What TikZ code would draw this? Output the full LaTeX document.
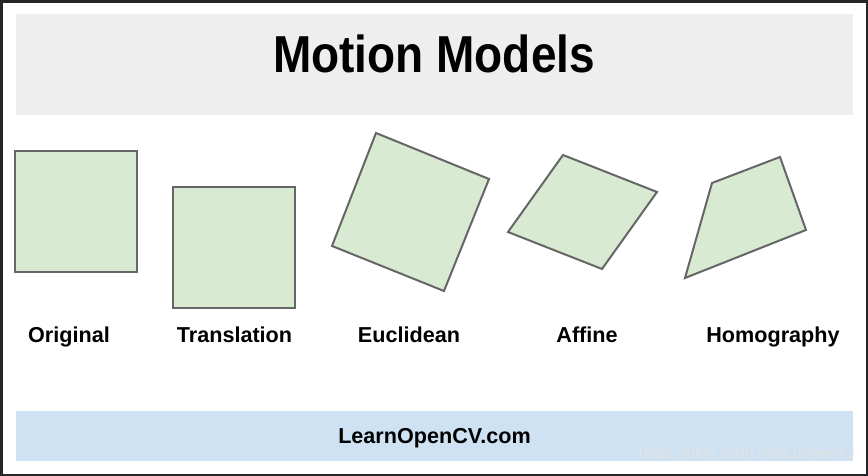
\documentclass[tikz,border=0pt]{standalone}
\usepackage{fontspec}
\setmainfont{Liberation Sans}
\usepackage{xcolor}
\usepackage{tikz}
\usetikzlibrary{positioning}

\definecolor{framegray}{HTML}{262628}
\definecolor{titlegray}{HTML}{EEEEEE}
\definecolor{shapegreen}{HTML}{D9EAD3}
\definecolor{edgegray}{HTML}{666666}
\definecolor{bandblue}{HTML}{CFE2F3}
\definecolor{markgray}{HTML}{E2E2E2}

\tikzset{
  model/.style={fill=shapegreen,draw=edgegray,line width=2pt,line join=miter},
  lbl/.style={anchor=base,inner sep=0pt,font=\fontsize{21.6}{26}\selectfont\bfseries},
}

\begin{document}
\begin{tikzpicture}[x=1pt,y=-1pt]
            \useasboundingbox (0,0) rectangle (868,476);
            \fill[framegray] (0,0) rectangle (868,476);
            \fill[white] (3,3) rectangle (866,474);
            \fill[titlegray] (16,14) rectangle (853,115);
            \fill[bandblue] (16,411) rectangle (853,461);
            \node[anchor=base,inner sep=0pt,font=\fontsize{46}{50}\selectfont\bfseries](title) at (434,73) {\scalebox{1}[1.13]{Motion Models}};
            \draw[model] (15,151) rectangle (137,272);
            \draw[model] (173,187) rectangle (295,308);
            \draw[model] (376,133) -- (489,179) -- (444,291) -- (332,246) -- cycle;
            \draw[model] (563,155) -- (657,192) -- (602,269) -- (508,232) -- cycle;
            \draw[model] (712,183) -- (780,157) -- (806,230) -- (685,278) -- cycle;
            \node[lbl](original) at (69,342) {Original};
            \node[lbl](translation) at (234.5,342) {Translation};
            \node[lbl](euclidean) at (409,342) {Euclidean};
            \node[lbl](affine) at (587,342) {Affine};
            \node[lbl](homography) at (773,342) {Homography};
            \node[anchor=base,inner sep=0pt,font=\fontsize{21.6}{26}\selectfont\bfseries](site) at (434.5,443) {LearnOpenCV.com};
            \node[anchor=base east,inner sep=0pt,text=markgray,font=\fontsize{15.7}{18}\selectfont](mark) at (855,458) {https://blog.csdn.net/LuohenYJ};
        \end{tikzpicture}
\end{document}
